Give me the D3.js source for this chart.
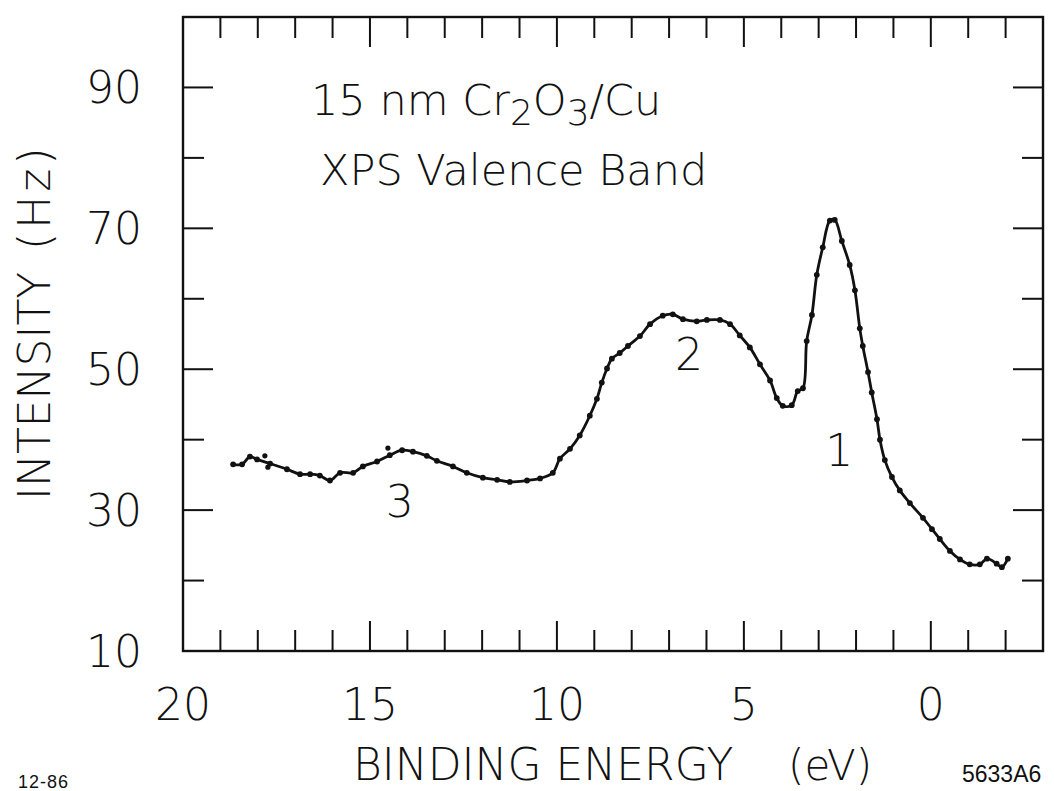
<!DOCTYPE html>
<html lang="en">
<head>
    <title>XPS Valence Band</title>
    <meta charset="utf-8">
    <script src="https://d3js.org/d3.v7.min.js"></script>
    <style>
        body { margin: 0; background: #fff; }
        text { font-family: "DejaVu Sans", sans-serif; font-weight: 200; fill: #111; }
    </style>
</head>
<body>
<div id="visualization"></div>
<script>
    // Data: binding energy (eV) and intensity (Hz)
    const energy = [
        18.66, 18.42, 18.21, 18.02, 17.67, 17.22, 16.87, 16.60, 16.34, 16.07,
        15.80, 15.45, 15.19, 14.81, 14.47, 14.14, 13.85, 13.48, 13.21, 12.78,
        12.41, 11.98, 11.60, 11.26, 10.80, 10.45, 10.11, 9.92, 9.65, 9.39,
        9.12, 8.93, 8.80, 8.66, 8.53, 8.32, 8.10, 7.78, 7.51, 7.17,
        6.90, 6.63, 6.26, 5.99, 5.64, 5.37, 5.11, 4.84, 4.57, 4.30,
        4.12, 3.96, 3.72, 3.56, 3.42, 3.32, 3.18, 3.05, 2.89, 2.70,
        2.57, 2.38, 2.17, 2.03, 1.90, 1.82, 1.68, 1.58, 1.44, 1.36,
        1.23, 1.04, 0.83, 0.56, 0.21, -0.03, -0.24, -0.51, -0.78, -1.04,
        -1.31, -1.50, -1.76, -1.90, -2.06
    ];
    const intensity = [
        36.5, 36.5, 37.6, 37.2, 36.6, 35.8, 35.1, 35.1, 34.9, 34.2,
        35.3, 35.3, 36.2, 36.9, 37.8, 38.5, 38.3, 37.7, 37.0, 36.2,
        35.3, 34.6, 34.3, 34.0, 34.2, 34.5, 35.3, 37.3, 38.7, 40.6,
        43.4, 45.8, 48.1, 50.1, 51.5, 52.3, 53.3, 54.7, 56.4, 57.6,
        57.8, 57.1, 56.8, 57.0, 57.0, 56.4, 54.8, 53.1, 50.7, 48.4,
        45.9, 44.8, 44.9, 46.9, 47.3, 54.0, 57.7, 63.4, 67.3, 71.1,
        71.2, 68.2, 64.8, 61.2, 55.8, 53.3, 49.6, 46.7, 42.9, 40.0,
        37.1, 34.7, 32.8, 31.0, 28.9, 27.3, 25.9, 24.2, 23.0, 22.3,
        22.3, 23.1, 22.4, 21.9, 23.1
    ];
    // a few scattered points lying off the smooth curve
    const strayEnergy = [17.81, 17.73, 14.52];
    const strayIntensity = [37.7, 36.1, 38.8];

    // Tick values and labels
    const xLabels = [20, 15, 10, 5, 0];
    const yLabels = [10, 30, 50, 70, 90];
    const peakLabels = ["1", "2", "3"];
    const peakEnergy = [2.45, 6.47, 14.2];
    const peakIntensity = [36.3, 49.9, 29.0];

    const width = 1054, height = 791;
    const plot = {left: 183, right: 1043, top: 17, bottom: 651};

    const svg = d3.select("#visualization")
        .append("svg")
        .attr("width", width)
        .attr("height", height);

    svg.append("rect").attr("width", width).attr("height", height).attr("fill", "#fff");

    // Scales (binding energy runs right to left)
    const x = d3.scaleLinear().domain([20, -3]).range([plot.left, plot.right]);
    const y = d3.scaleLinear().domain([10, 100]).range([plot.bottom, plot.top]);

    const xTicks = d3.range(20, -3.5, -1);
    const yTicks = d3.range(10, 101, 10);
    const major = 30, minor = 21;

    // Inward ticks on all four sides
    const ticks = svg.append("g").attr("stroke", "#111").attr("stroke-width", 2);

    ticks.selectAll(".tb").data(xTicks).join("line")
        .attr("x1", d => x(d)).attr("x2", d => x(d))
        .attr("y1", plot.bottom).attr("y2", d => plot.bottom - (d % 5 === 0 ? major : minor));

    ticks.selectAll(".tt").data(xTicks).join("line")
        .attr("x1", d => x(d)).attr("x2", d => x(d))
        .attr("y1", plot.top).attr("y2", d => plot.top + (d % 5 === 0 ? major : minor));

    ticks.selectAll(".tl").data(yTicks).join("line")
        .attr("y1", d => y(d)).attr("y2", d => y(d))
        .attr("x1", plot.left).attr("x2", d => plot.left + (yLabels.includes(d) ? major : minor));

    ticks.selectAll(".tr").data(yTicks).join("line")
        .attr("y1", d => y(d)).attr("y2", d => y(d))
        .attr("x1", plot.right).attr("x2", d => plot.right - (yLabels.includes(d) ? major : minor));

    // Frame
    svg.append("rect")
        .attr("x", plot.left).attr("y", plot.top)
        .attr("width", plot.right - plot.left).attr("height", plot.bottom - plot.top)
        .attr("fill", "none").attr("stroke", "#111").attr("stroke-width", 2.4);

    // Tick labels
    svg.selectAll(".xl").data(xLabels).join("text")
        .attr("x", d => x(d)).attr("y", 720)
        .attr("text-anchor", "middle").attr("font-size", 44)
        .text(d => d);

    svg.selectAll(".yl").data(yLabels).join("text")
        .attr("x", 142).attr("y", d => y(d))
        .attr("dy", "0.36em")
        .attr("text-anchor", "end").attr("font-size", 44)
        .text(d => d);

    // Axis titles
    svg.append("text").attr("x", 353).attr("y", 780).attr("font-size", 44).text("BINDING ENERGY");
    svg.append("text").attr("x", 788).attr("y", 780).attr("font-size", 42).text("(eV)");

    svg.append("text").attr("transform", "translate(50,500) rotate(-90)")
        .attr("font-size", 44).text("INTENSITY");
    svg.append("text").attr("transform", "translate(50,250) rotate(-90)")
        .attr("font-size", 44).attr("letter-spacing", 4).text("(Hz)");

    // Annotation
    const t1 = svg.append("text").attr("x", 311).attr("y", 115).attr("font-size", 43);
    t1.append("tspan").text("15 nm Cr");
    t1.append("tspan").attr("dy", 10).attr("font-size", 36).text("2");
    t1.append("tspan").attr("dy", -10).text("O");
    t1.append("tspan").attr("dy", 10).attr("font-size", 36).text("3");
    t1.append("tspan").attr("dy", -10).text("/Cu");

    svg.append("text").attr("x", 320).attr("y", 185).attr("font-size", 43).text("XPS Valence Band");

    // Peak numbers
    svg.selectAll(".pk").data(peakLabels).join("text")
        .attr("x", (d, i) => x(peakEnergy[i])).attr("y", (d, i) => y(peakIntensity[i]))
        .attr("text-anchor", "middle").attr("font-size", 44)
        .text(d => d);

    // Footnotes
    svg.append("text").attr("x", 18).attr("y", 788)
        .style("font-family", "'Liberation Sans', sans-serif").style("font-weight", 400)
        .attr("font-size", 18).attr("letter-spacing", 1).text("12-86");
    svg.append("text").attr("x", 962).attr("y", 782)
        .style("font-family", "'Liberation Sans', sans-serif").style("font-weight", 400)
        .attr("font-size", 23).text("5633A6");

    // Spectrum: smooth line plus measured points
    const points = energy.map((e, i) => [e, intensity[i]]);

    svg.append("path")
        .datum(points)
        .attr("fill", "none").attr("stroke", "#111").attr("stroke-width", 2.8)
        .attr("d", d3.line().x(d => x(d[0])).y(d => y(d[1])).curve(d3.curveCatmullRom.alpha(0.5)));

    svg.selectAll(".pt").data(points).join("circle")
        .attr("cx", d => x(d[0])).attr("cy", d => y(d[1]))
        .attr("r", 2.9).attr("fill", "#111");

    svg.selectAll(".st").data(strayEnergy).join("circle")
        .attr("cx", d => x(d)).attr("cy", (d, i) => y(strayIntensity[i]))
        .attr("r", 2.6).attr("fill", "#111");
</script>
</body>
</html>
